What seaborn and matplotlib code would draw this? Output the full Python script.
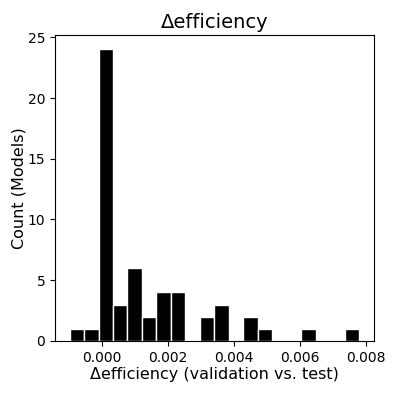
import numpy as np
import pandas as pd
import matplotlib
matplotlib.use("Agg")
import matplotlib.pyplot as plt
import seaborn as sns

# Bin counts (20 equal bins)
bin_counts = [1, 1, 24, 3, 6, 2, 4, 4, 0, 2, 3, 0, 2, 1, 0, 0, 1, 0, 0, 1]
data_min = -0.00097
data_max = 0.00779

width = (data_max - data_min) / len(bin_counts)
values = []
for i, c in enumerate(bin_counts):
    values += [data_min + (i + 0.5) * width] * c
values[0] = data_min
values[-1] = data_max
df = pd.DataFrame({"delta": values})

fig = plt.figure(figsize=(3.96, 3.96), dpi=100)
ax = fig.add_axes([0.139, 0.139, 0.805, 0.773])
sns.histplot(data=df, x="delta", bins=len(bin_counts), binrange=(data_min, data_max),
             color="black", edgecolor="white", linewidth=1, alpha=1, ax=ax)
ax.set_title("Δefficiency", fontsize=14, pad=5)
ax.set_xlabel("Δefficiency (validation vs. test)", fontsize=11.5, labelpad=1.5)
ax.set_ylabel("Count (Models)", fontsize=11.5, labelpad=1)
ax.set_xticks([0.000, 0.002, 0.004, 0.006, 0.008])
ax.set_xticklabels(["0.000", "0.002", "0.004", "0.006", "0.008"])
ax.set_yticks([0, 5, 10, 15, 20, 25])
ax.tick_params(labelsize=10)
fig.savefig("out.png", dpi=100)
